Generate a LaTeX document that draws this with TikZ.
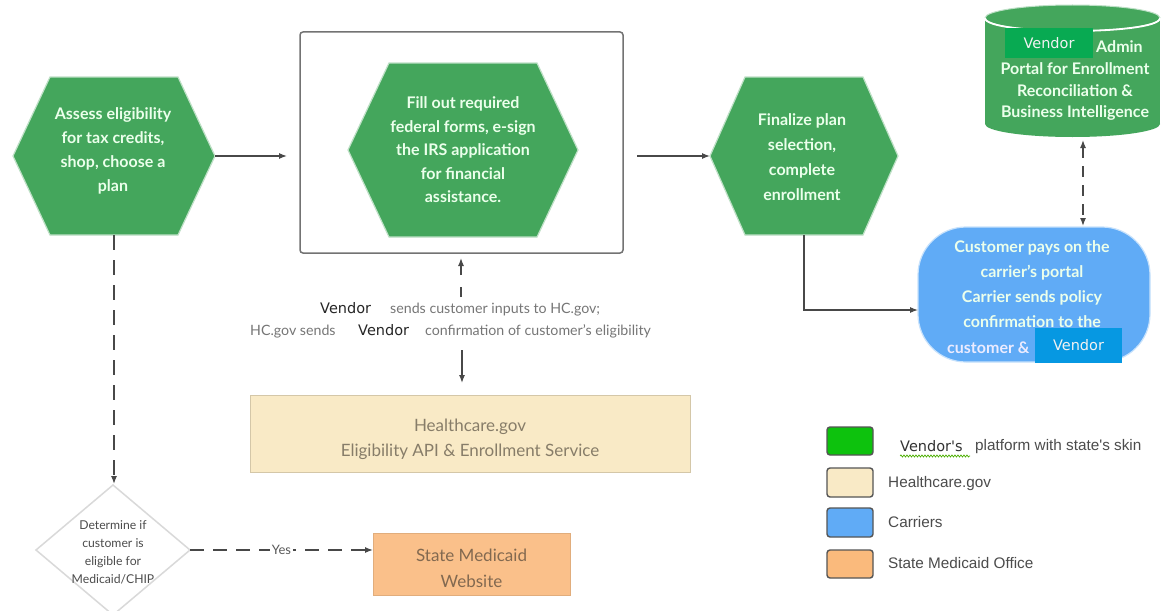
\documentclass[tikz,border=0pt]{standalone}
\usepackage{fontspec}
\setmainfont{Lato}
\newfontfamily\dejavu{DejaVu Sans}
\newfontfamily\arialf{Liberation Sans}
\usetikzlibrary{arrows.meta,decorations.pathmorphing,calc}
\definecolor{hexgreen}{RGB}{68,166,92}
\definecolor{vgreen}{RGB}{8,170,82}
\definecolor{cblue}{RGB}{96,171,246}
\definecolor{vblue}{RGB}{6,152,226}
\definecolor{hcbeige}{RGB}{249,234,198}
\definecolor{medorange}{RGB}{250,192,138}
\definecolor{linegray}{RGB}{72,72,72}
\definecolor{txtgray}{RGB}{118,118,118}
\definecolor{hctxt}{RGB}{135,125,105}
\definecolor{medtxt}{RGB}{130,105,80}
\definecolor{legbord}{RGB}{85,85,85}
\tikzset{
  anchorbox/.style={rectangle, inner sep=0pt, outer sep=0pt},
  hexfill/.style={fill=hexgreen, draw=hexgreen!35!white, line width=1.2pt},
  hextext/.style={align=center, text=white!92!green, font=\bfseries\fontsize{16}{24}\selectfont},
  arr/.style={draw=linegray, line width=1.3pt, -{Latex[length=8pt,width=6pt]}},
  darr/.style={arr, dash pattern=on 11pt off 8pt},
  lbltext/.style={anchor=base west, inner sep=0pt, text=txtgray, font=\fontsize{14.2}{16}\selectfont},
  vendorblack/.style={anchor=base west, inner sep=0pt, text=black!85, font=\dejavu\fontsize{14.5}{16}\selectfont},
  vendorbox/.style={anchorbox, text=white!95!black, font=\dejavu\fontsize{14.5}{16}\selectfont},
  legbox/.style={draw=legbord, line width=1.4pt, rounded corners=3pt},
  legtext/.style={anchor=base west, inner sep=0pt, text=black!70, font=\arialf\fontsize{15.3}{17}\selectfont}
}
\newcommand\hexpath[2]{%
  \path[hexfill] ($(#1.north west)+(#2,0)$) -- ($(#1.north east)+(-#2,0)$) -- (#1.east)
    -- ($(#1.south east)+(-#2,0)$) -- ($(#1.south west)+(#2,0)$) -- (#1.west) -- cycle;}
\begin{document}
\begin{tikzpicture}[x=1pt,y=-1pt]
\useasboundingbox (0,0) rectangle (1166,610);
\fill[white] (0,0) rectangle (1166,610);
\clip (0,0) rectangle (1166,610);

% outer box
\node[anchorbox, draw=black!55, line width=1.5pt, rounded corners=3pt,
      minimum width=323pt, minimum height=221pt] (b) at (461.5,142.5) {};

% hexagons
\node[anchorbox, minimum width=202pt, minimum height=158pt] (h1) at (114,156) {};
\hexpath{h1}{37}
\node[hextext] (h1t) at (113,151) {Assess eligibility\\for tax credits,\\shop, choose a\\plan};

\node[anchorbox, minimum width=230pt, minimum height=174pt] (h2) at (463,150) {};
\hexpath{h2}{41}
\node[hextext, font=\bfseries\fontsize{16}{23.5}\selectfont] (h2t) at (463,150) {Fill out required\\federal forms, e-sign\\the IRS application\\for financial\\assistance.};

\node[anchorbox, minimum width=188pt, minimum height=158pt] (h3) at (804,156) {};
\hexpath{h3}{35}
\node[hextext, font=\bfseries\fontsize{16}{25}\selectfont] (h3t) at (802,157) {Finalize plan\\selection,\\complete\\enrollment};

% cylinder
\node[anchorbox, minimum width=175pt, minimum height=132pt] (cyl) at (1072.5,71) {};
\fill[hexgreen] (985,18) rectangle (1160,124);
\fill[hexgreen] (1072.5,124) ellipse [x radius=87.5, y radius=13];
\fill[hexgreen] (1072.5,18) ellipse [x radius=87.5, y radius=13];
\draw[hexgreen!35!white, line width=1pt] (1072.5,18) ellipse [x radius=87.5, y radius=13];
\draw[white, line width=1.8pt] (985,18) .. controls (985,35.3) and (1160,35.3) .. (1160,18);
\node[vendorbox, fill=vgreen, minimum width=88pt, minimum height=30pt] (cv) at (1049,43) {Vendor};
\node[anchor=west, inner sep=0pt, text=white!92!green, font=\bfseries\fontsize{16}{21.5}\selectfont] (adm) at (1096,47) {Admin};
\node[hextext, font=\bfseries\fontsize{16}{21.5}\selectfont] (cylt) at (1075,91.5) {Portal for Enrollment\\Reconciliation \&\\Business Intelligence};

% blue carrier shape
\node[anchorbox, minimum width=232pt, minimum height=135pt] (blue) at (1034,294.5) {};
\path[fill=cblue, draw=cblue!35!white, line width=1.2pt, rounded corners=48pt] (918,227) rectangle (1150,362);
\node[hextext, font=\bfseries\fontsize{16}{25}\selectfont] (bluet) at (1032,284.5) {Customer pays on the\\carrier's portal\\Carrier sends policy\\confirmation to the};
\node[anchor=base west, inner sep=0pt, text=white!92!blue, font=\bfseries\fontsize{16}{25}\selectfont] (bluec) at (947,353) {customer \&};
\node[vendorbox, fill=vblue, minimum width=87pt, minimum height=35pt] (bv) at (1078.5,345.5) {Vendor};

% label between box and healthcare.gov
\node[anchorbox, minimum width=424pt, minimum height=44pt] (lbl) at (461,319) {};
\node[vendorblack] (lv1) at (320,313) {Vendor};
\node[lbltext] (l1) at (390,313) {sends customer inputs to HC.gov;};
\node[lbltext] (l2a) at (250,335) {HC.gov sends};
\node[vendorblack] (lv2) at (358,335) {Vendor};
\node[lbltext] (l2b) at (425,335) {confirmation of customer's eligibility};

% healthcare.gov box
\node[anchorbox, fill=hcbeige, draw=hcbeige!85!black, line width=0.8pt,
      minimum width=440pt, minimum height=77pt] (hc) at (470,433.5) {};
\node[align=center, text=hctxt, font=\fontsize{17}{25}\selectfont] (hct) at (470,439) {Healthcare.gov\\Eligibility API \& Enrollment Service};

% diamond
\node[anchorbox, minimum width=154pt, minimum height=130pt] (dm) at (113,550) {};
\draw[black!15, line width=1.5pt] (dm.north) -- (dm.east) -- (dm.south) -- (dm.west) -- cycle;
\node[align=center, text=black!70, font=\fontsize{12.2}{18}\selectfont] (dmt) at (113,552) {Determine if\\customer is\\eligible for\\Medicaid/CHIP};

% state medicaid box
\node[anchorbox, fill=medorange, draw=medorange!90!black, line width=0.5pt,
      minimum width=197pt, minimum height=62pt] (med) at (471.5,564) {};
\node[align=center, text=medtxt, font=\fontsize{17}{26}\selectfont] (medt) at (471.5,568) {State Medicaid\\Website};

% connectors
\draw[arr, shorten >=13pt] (h1.east) -- (h1.east -| b.west);
\draw[arr, shorten <=14pt] (b.east |- h3.west) -- (h3.west);
\draw[arr, line width=1.1pt] (h3.south) |- ([yshift=-15.5pt]blue.west);
\draw[darr, {Latex[length=8pt,width=6pt]}-{Latex[length=8pt,width=6pt]}, shorten <=3pt, shorten >=1pt]
  ([xshift=10.5pt]cyl.south) -- ([xshift=10.5pt]cyl.south |- blue.north);
\draw[darr, dash pattern=on 10pt off 12pt, shorten >=5pt] (lbl.north) -- (lbl.north |- b.south);
\draw[arr, shorten <=9pt, shorten >=12pt] ([xshift=1pt]lbl.south) -- ([xshift=1pt]lbl.south |- hc.north);
\draw[darr, dash pattern=on 15pt off 10pt, shorten >=1pt] (h1.south) -- (h1.south |- dm.north);
\draw[darr, dash pattern=on 14pt off 9pt] (dm.east) -- (dm.east -| med.west)
  node[pos=0.5, fill=white, inner sep=2pt, text=black!65, font=\fontsize{13}{15}\selectfont] (yes) {Yes};

% legend
\node[anchorbox, legbox, fill=green!75!black!95!white, minimum width=46pt, minimum height=28pt] (lg1) at (850,441) {};
\node[anchorbox, legbox, fill=hcbeige, minimum width=46pt, minimum height=29pt] (lg2) at (850,482.5) {};
\node[anchorbox, legbox, fill=cblue, minimum width=46pt, minimum height=29pt] (lg3) at (850,522.5) {};
\node[anchorbox, legbox, fill=medorange!90!orange, minimum width=46pt, minimum height=28pt] (lg4) at (850,564) {};
\node[anchor=base west, inner sep=0pt, text=black!80, font=\dejavu\fontsize{14.5}{16}\selectfont] (lt1a) at (900,451) {Vendor's};
\draw[green!55!black!70!yellow, line width=0.7pt, decorate, decoration={snake, amplitude=1pt, segment length=3pt}] (900,456) -- (970,456);
\node[legtext] (lt1b) at (975,450) {platform with state's skin};
\node[legtext] (lt2) at (888,487) {Healthcare.gov};
\node[legtext] (lt3) at (888,527) {Carriers};
\node[legtext] (lt4) at (888,568) {State Medicaid Office};
\end{tikzpicture}
\end{document}
